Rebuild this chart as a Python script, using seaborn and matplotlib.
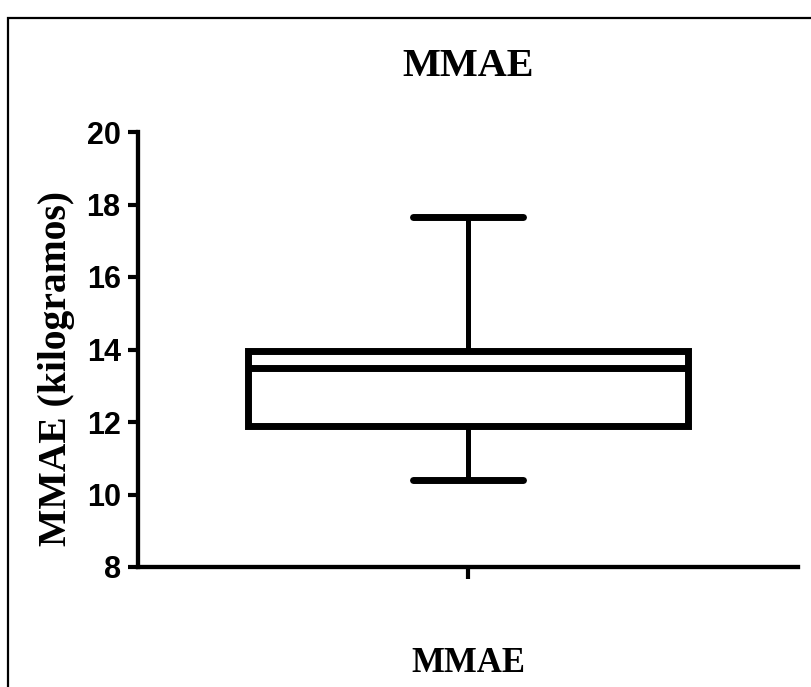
import numpy as np
import pandas as pd
import matplotlib
matplotlib.use('Agg')
import matplotlib.pyplot as plt
import seaborn as sns
from matplotlib.patches import Rectangle

# %%
# Five-number summary (min, Q1, median, Q3, max)
group = "MMAE"
mmae_values = [10.4, 11.9, 13.5, 13.95, 17.65]
y_ticks = [8, 10, 12, 14, 16, 18, 20]

df = pd.DataFrame({"grupo": [group] * len(mmae_values), "MMAE": mmae_values})

# %%
sns.set_style("white")
plt.rcParams['font.family'] = ['Liberation Sans', 'DejaVu Sans']
plt.rcParams['text.color'] = 'black'
plt.rcParams['axes.labelcolor'] = 'black'
plt.rcParams['xtick.color'] = 'black'
plt.rcParams['ytick.color'] = 'black'

fig = plt.figure(figsize=(8.11, 6.87), dpi=100)
ax = fig.add_axes([138 / 811, 1 - 567 / 687, 660 / 811, 435 / 687])

sns.boxplot(data=df, y="MMAE", ax=ax, width=1.0, whis=(0, 100),
            color="white", linecolor="black", linewidth=5,
            whiskerprops={"linewidth": 3.6}, capwidths=0.25)

ax.set_xlim(-0.75, 0.75)
ax.set_ylim(8, 20)
ax.set_yticks(y_ticks)
ax.set_xticks([0])
ax.set_xticklabels([""])

for s in ["top", "right"]:
    ax.spines[s].set_visible(False)
for s in ["left", "bottom"]:
    ax.spines[s].set_linewidth(3.1)
    ax.spines[s].set_color("black")

ax.tick_params(axis="y", length=7.5, width=3, colors="black", pad=5,
               labelsize=22, direction="out", left=True)
ax.tick_params(axis="x", length=8.5, width=3, color="black", bottom=True,
               direction="out")
for lab in ax.get_yticklabels():
    lab.set_fontweight("bold")

serif = ["Liberation Serif", "DejaVu Serif"]
ax.set_title("MMAE", family=serif, fontweight="bold", fontsize=29,
             y=(567 - 75) / 435, va="center", color="black")

ax.set_ylabel("MMAE (kilogramos)", family=serif, fontweight="bold", fontsize=28.5)
ax.yaxis.set_label_coords((57 - 138) / 660, (567 - 368) / 435)
ax.yaxis.label.set_verticalalignment("center")

ax.set_xlabel("MMAE", family=serif, fontweight="bold", fontsize=25)
ax.xaxis.set_label_coords(0.5, (567 - 663) / 435)
ax.xaxis.label.set_verticalalignment("center")

# outer frame (runs off the right and bottom edges, as in the original)
fig.patches.append(Rectangle((8 / 811, -0.05), 1.2, 1 - 18 / 687 + 0.05,
                             transform=fig.transFigure, fill=False,
                             edgecolor="black", linewidth=1.6))

fig.savefig("out.png", dpi=100)
